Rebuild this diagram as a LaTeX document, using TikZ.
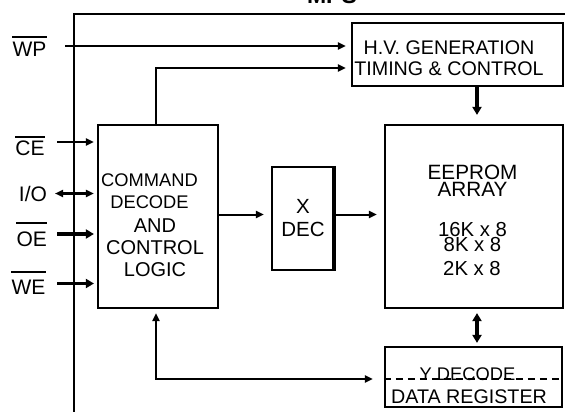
\documentclass[tikz,border=0pt]{standalone}
\usepackage{fontspec}
\setmainfont{Liberation Sans}
\usetikzlibrary{arrows.meta,positioning}

\tikzset{
  blk/.style={draw, line width=2.2pt, inner sep=0pt},
  ln/.style={line width=2pt},
  sig/.style={ln, -{Triangle[length=8pt,width=7pt]}, shorten >=4pt},
  bus/.style={line width=3.6pt, -{Triangle[length=8pt,width=9pt]}, shorten >=4pt},
  txt/.style={inner sep=0pt, align=center, font=\fontsize{20}{22}\selectfont},
  bar/.style={line width=2.2pt}
}

\begin{document}
\begin{tikzpicture}[x=1pt,y=-1pt]
\useasboundingbox (0,0) rectangle (565,412);

% title, cut by the page top
\node[font=\fontsize{23}{23}\selectfont\bfseries, anchor=base] (ttl) at (332,3.5) {MPS};

% outer frame
\coordinate (fr) at (74,412);
\draw[bar] (fr) |- (565,14);

% blocks
\node[blk, minimum width=211pt, minimum height=63pt] (hv) at (457.5,54.5) {};
\node[blk, minimum width=120pt, minimum height=183pt] (cmd) at (158,216.5) {};
\node[blk, minimum width=61pt, minimum height=103pt] (xdec) at (302.5,218.5) {};
\draw[line width=3.6pt] (xdec.north east) -- (xdec.south east);
\node[blk, minimum width=178pt, minimum height=183pt] (mem) at (474,216.5) {};
\node[blk, minimum width=177pt, minimum height=60pt] (ydec) at (473.5,377) {};

% block texts
\node[txt, font=\fontsize{19.7}{21}\selectfont] (hvt) at (449,58.5) {H.V. GENERATION\\TIMING \& CONTROL};
\node[txt, font=\fontsize{18.3}{22}\selectfont] (cmdt) at (149.5,191) {COMMAND\\DECODE};
\node[txt, font=\fontsize{20}{22}\selectfont] (cmdu) at (155,248) {AND\\CONTROL\\LOGIC};
\node[txt, font=\fontsize{20.5}{23}\selectfont] (xdt) at (303,218.5) {X\\DEC};
\node[txt, font=\fontsize{20.7}{16.5}\selectfont] (memt) at (472.5,180.8) {EEPROM\\ARRAY};
\node[txt, font=\fontsize{20.3}{15}\selectfont] (mems) at (472.5,237.5) {16K x 8\\8K x 8};
\node[txt, font=\fontsize{20.3}{15}\selectfont] (memr) at (472,269) {2K x 8};
\node[txt, font=\fontsize{18.3}{22}\selectfont] (ydt) at (467.5,374) {Y DECODE};
\node[txt, font=\fontsize{19.7}{22}\selectfont] (ydr) at (469,397) {DATA REGISTER};

% pin names
\node[txt, font=\fontsize{21}{22}\selectfont] (wp) at (29.5,49.5) {WP};
\draw[bar] ([yshift=5pt]wp.north west) -- ([yshift=5pt]wp.north east);
\node[txt, font=\fontsize{21}{22}\selectfont] (ce) at (30,148.5) {CE};
\draw[bar] ([yshift=4pt]ce.north west) -- ([yshift=4pt]ce.north east);
\node[txt, font=\fontsize{21}{22}\selectfont] (io) at (33,194.3) {I/O};
\node[txt, font=\fontsize{21}{22}\selectfont] (oe) at (31.7,239) {OE};
\draw[bar] ([yshift=8.4pt]oe.north west) -- ([yshift=8.4pt]oe.north east);
\node[txt, font=\fontsize{21}{22}\selectfont] (we) at (28.5,287) {WE};
\draw[bar] ([yshift=7.3pt]we.north west) -- ([yshift=7.3pt]we.north east);

% pin lines
\coordinate (wpi) at (65,46);
\coordinate (cei) at (57,142);
\coordinate (ioi) at (55,193.5);
\coordinate (oei) at (57,234);
\coordinate (wei) at (57,283.5);
\draw[sig, shorten >=5pt] (wpi) -- (wpi -| hv.west);
\draw[sig, shorten >=5pt] ([xshift=-2pt]cmd.north) |- ([yshift=-13.5pt]hv.west);
\draw[sig, shorten >=3pt] (cei) -- (cei -| cmd.west);
\draw[ln, line width=2.5pt, {Triangle[length=8pt,width=7pt]}-{Triangle[length=8pt,width=7pt]}, shorten >=3pt] (ioi) -- (ioi -| cmd.west);
\draw[bus, shorten >=3pt] (oei) -- (oei -| cmd.west);
\draw[bus, shorten >=3pt] (wei) -- (wei -| cmd.west);

% data paths
\coordinate (xin) at ([yshift=4pt]xdec.west);
\draw[sig, shorten >=7pt] (xin -| cmd.east) -- (xin);
\draw[sig, shorten >=7pt] (xin -| xdec.east) -- (xin -| mem.west);
\draw[bus, line width=3.3pt, shorten >=9pt] ([xshift=3pt]mem.north |- hv.south) -- ([xshift=3pt]mem.north);
\draw[bus, {Triangle[length=8pt,width=9pt]}-{Triangle[length=8pt,width=9pt]}, shorten <=4pt, shorten >=3pt] ([xshift=3pt]mem.south) -- ([xshift=3pt]mem.south |- ydec.north);
\draw[sig, {Triangle[length=8pt,width=7pt]}-{Triangle[length=8pt,width=7pt]}, shorten <=4pt, shorten >=11pt] ([xshift=-2pt]cmd.south) |- ([yshift=-2pt]ydec.west);
\draw[ln, dash pattern=on 7pt off 5pt] ([yshift=-2pt]ydec.west) -- ([yshift=-2pt]ydec.east);
\end{tikzpicture}
\end{document}
